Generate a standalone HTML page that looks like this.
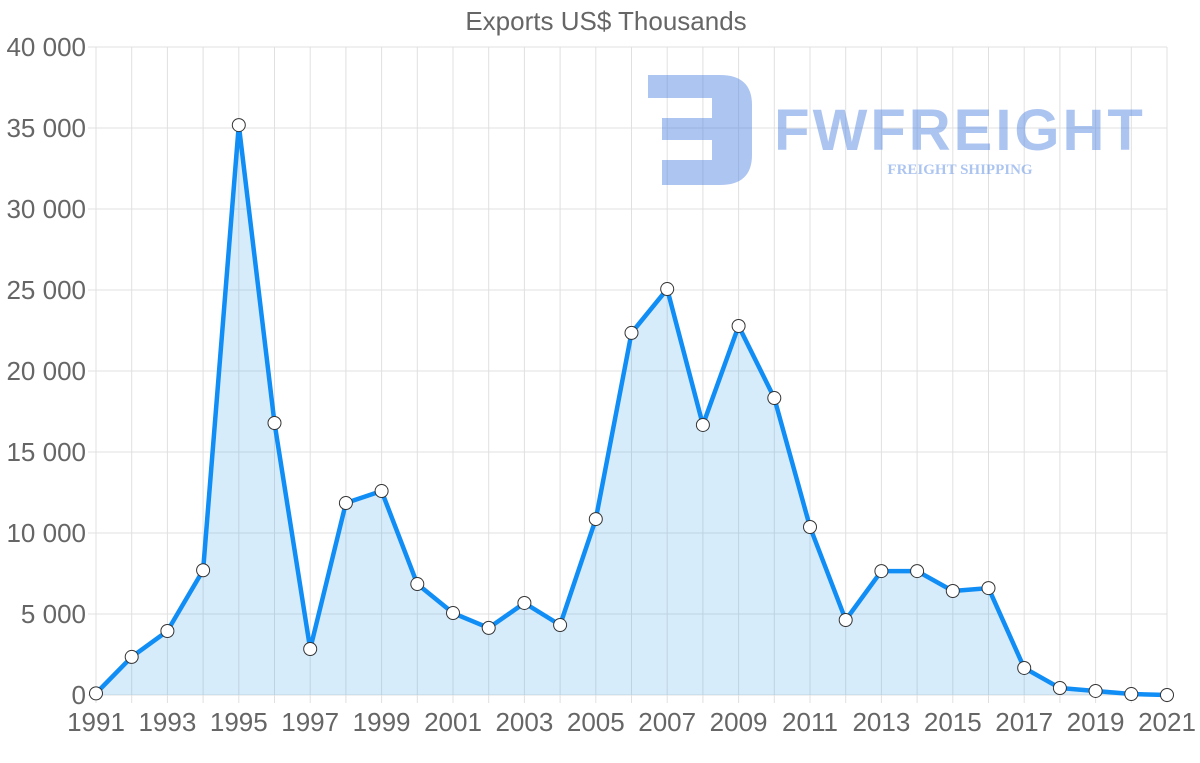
<!DOCTYPE html>
<html><head><meta charset="utf-8"><style>
body{margin:0;background:#fff;}
svg{display:block;font-family:"Liberation Sans",sans-serif;}
</style></head><body>
<svg id="chart" width="1200" height="763">
<text x="606" y="30" text-anchor="middle" font-size="26" fill="#666">Exports US$ Thousands</text>
<g id="grid"></g>
<g opacity="0.45">
<path d="M648 75 H720 Q752 75 752 105 V155 Q752 185 720 185 H662 V160 H712 V140 H662 V118 H712 V98 H648 Z" fill="#4a7fe0"/>
<text x="960" y="150" text-anchor="middle" font-size="58" font-weight="bold" fill="#4a7fe0" letter-spacing="3">FWFREIGHT</text>
<text x="960" y="174" text-anchor="middle" font-size="15" font-weight="bold" fill="#4a7fe0" font-family="Liberation Serif,serif">FREIGHT SHIPPING</text>
</g>
<g id="series"></g>
<g id="axes"></g>
</svg>
<script>
const years=[1991,1992,1993,1994,1995,1996,1997,1998,1999,2000,2001,2002,2003,2004,2005,2006,2007,2008,2009,2010,2011,2012,2013,2014,2015,2016,2017,2018,2019,2020,2021];
const exportsValues=[100,2350,3950,7700,35180,16790,2840,11850,12590,6850,5060,4140,5680,4320,10860,22350,25060,16670,22780,18330,10370,4630,7650,7650,6420,6600,1670,430,250,60,0];
const yTicks=[0,5000,10000,15000,20000,25000,30000,35000,40000];
const yTickLabels=["0","5 000","10 000","15 000","20 000","25 000","30 000","35 000","40 000"];
const NS="http://www.w3.org/2000/svg";
const x0=96,x1=1167,yB=695,yT=47;
const xs=i=>x0+(x1-x0)*i/(years.length-1);
const ys=v=>yB-(yB-yT)*v/40000;
function mk(t,a,p){const e=document.createElementNS(NS,t);for(const k in a)e.setAttribute(k,a[k]);p.appendChild(e);return e;}
const grid=document.getElementById('grid'),axes=document.getElementById('axes'),ser=document.getElementById('series');
yTicks.forEach((v,i)=>{
 const l=mk('line',{x1:x0-8,x2:x1,y1:ys(v),y2:ys(v),stroke:'#e0e0e0','stroke-width':1},grid);
 
 
 const t=mk('text',{x:86,y:ys(v)+9,'text-anchor':'end','font-size':26,fill:'#666'},axes);
 t.textContent=yTickLabels[i];
 
 
});
years.forEach((y,i)=>{
 const l=mk('line',{x1:xs(i),x2:xs(i),y1:yT,y2:yB+8,stroke:'#e0e0e0','stroke-width':1},grid);
 
 
 if(i%2===0){
  const t=mk('text',{x:xs(i),y:731,'text-anchor':'middle','font-size':26,fill:'#666'},axes);
  t.textContent=y;
  
  
 }
});
let d='';exportsValues.forEach((v,i)=>{d+=(i?'L':'M')+xs(i)+' '+ys(v)+' ';});
const area=mk('path',{d:d+'L'+xs(years.length-1)+' '+yB+' L'+x0+' '+yB+' Z',fill:'rgba(54,162,235,0.2)'},ser);


const line=mk('path',{d:d,fill:'none',stroke:'#108ef5','stroke-width':4.5,'stroke-linejoin':'round'},ser);


exportsValues.forEach((v,i)=>{
 const c=mk('circle',{cx:xs(i),cy:ys(v),r:6.5,fill:'#fff',stroke:'#333','stroke-width':1},ser);
 
 
});
</script>
</body></html>
